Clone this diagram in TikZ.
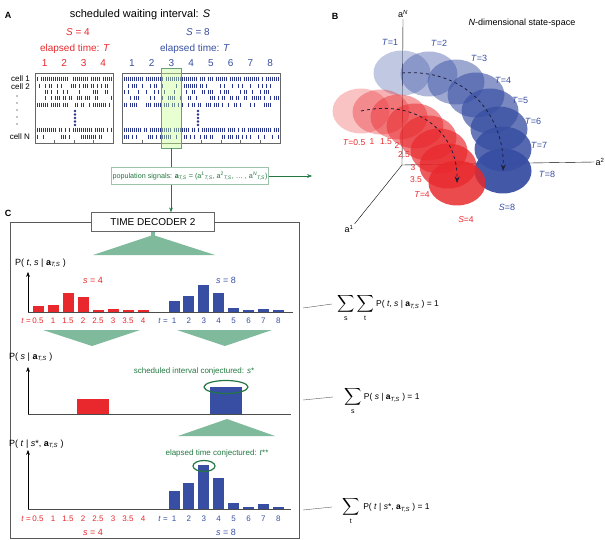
\documentclass[tikz,border=0pt]{standalone}
\usepackage{amsmath}
\usepackage{fontspec}
\setmainfont{Liberation Sans}
\usepackage{tikz}
\usetikzlibrary{shapes.geometric, arrows.meta, positioning, calc}
\definecolor{rojo}{RGB}{232,40,44}
\definecolor{azul}{RGB}{55,78,162}
\definecolor{marino}{RGB}{40,52,138}
\definecolor{verde}{RGB}{35,120,65}
\definecolor{verdeclaro}{RGB}{128,186,156}
\definecolor{oscuro}{RGB}{30,32,60}
\tikzstyle{arrow} = [thick, ->, >=Stealth]
\tikzstyle{spike} = [marino, line width=0.9pt]
\newcommand{\aTS}{\textbf{a}\textsubscript{\textit{T,S}}}
\newcommand{\sub}{\textsubscript{\textit{T,S}}}
\newcommand{\bigsum}[1]{{\fontsize{13}{15}\selectfont$\displaystyle\sum_{\mbox{\fontsize{7}{8}\selectfont #1}}$}}

\begin{document}
\begin{tikzpicture}[x=1pt, y=-1pt,
		every node/.style={font=\fontsize{8}{10}\selectfont, inner sep=1pt},
		big/.style={font=\fontsize{11}{13}\selectfont},
		mid/.style={font=\fontsize{10}{12}\selectfont},
		lbl/.style={font=\fontsize{9}{11}\selectfont},
		lblb/.style={font=\fontsize{8.5}{10}\selectfont},
		small/.style={font=\fontsize{8}{10}\selectfont},
		panel/.style={font=\bfseries\fontsize{9}{11}\selectfont},
		box/.style={draw=gray!80!black, fill=white, minimum width=123pt, minimum height=19pt, font=\fontsize{10}{12}\selectfont},
		popbox/.style={draw=verde!45, fill=white, text=verde, minimum width=154pt, minimum height=17pt, font=\fontsize{7.2}{9}\selectfont},
		tri/.style={fill=verdeclaro, draw=none},
		conj/.style={draw=verde, line width=1.2pt},
		blob/.style={ellipse, inner sep=0, minimum width=57pt, minimum height=45pt},
		sumeq/.style={anchor=west, font=\fontsize{8.5}{10}\selectfont}
		]
		\useasboundingbox (0,0) rectangle (605,540);
		
		% Panel A
		\node[panel] (A) at (8,15) {A};
		\node[big] (title) at (140,15) {scheduled waiting interval: \textit{S}};
		\node[mid, rojo] (S4) at (78,32) {\textit{S} = 4};
		\node[mid, azul] (S8) at (198,32) {\textit{S} = 8};
		\node[mid, rojo] (T4) at (75,49) {elapsed time: \textit{T}};
		\node[mid, azul] (T8) at (195,49) {elapsed time: \textit{T}};
		\foreach \i in {1,...,4}
		\node[mid, rojo] (n\i) at ({44.75+19.5*(\i-1)},63) {\i};
		\foreach \i in {1,...,8}
		\node[mid, azul] (m\i) at ({131.9+19.75*(\i-1)},63) {\i};
		
		\draw[gray!80!black] (35,73) rectangle (113,143);
		\draw[gray!80!black] (122,73) rectangle (280,143);
		\foreach \x in {54.5,74,93.5} \draw[gray!80!black] (\x,143) -- ++(0,-2.5);
		\foreach \x in {141.75,161.5,...,262} \draw[gray!80!black] (\x,143) -- ++(0,-2.5);
		
		% spikes
		\pgfmathsetseed{11}
		\foreach \y/\d in {79/0.8, 86/0.45, 92/0.3, 98/0.5, 105/0.55, 130/0.8, 137/0.45}{
			\foreach \x in {37,39,...,111}{
				\pgfmathsetmacro\r{rnd}
				\ifdim\r pt<\d pt\relax \draw[spike] (\x,\y-2.4) -- (\x,\y+2.4);\fi
			}
			\foreach \x in {124,126,...,278}{
				\pgfmathsetmacro\r{rnd}
				\ifdim\r pt<\d pt\relax \draw[spike] (\x,\y-2.4) -- (\x,\y+2.4);\fi
			}
		}
		\foreach \y in {111,114.5,...,125} {
			\fill[marino] (75,\y) circle (1.4);
			\fill[marino] (198,\y) circle (1.4);
		}
		\node[small, anchor=east] (c1) at (31,79) {cell 1};
		\node[small, anchor=east] (c2) at (31,87) {cell 2};
		\node[small, anchor=east] (cN) at (31,137) {cell N};
		\foreach \y in {96,103,...,125} \fill (17,\y) circle (0.6);
		
		\node[draw=verde!70, fill=green!50!yellow!45, fill opacity=0.4, draw opacity=1, minimum width=20pt, minimum height=80pt, inner sep=0] (win) at (171,108) {};
		\node[popbox] (pop) at (190,176) {population signals: \aTS\ = (a\textsuperscript{1}\sub, a\textsuperscript{2}\sub, … , a\textsuperscript{\textit{N}}\sub)};
		\coordinate (toB) at (312,176);
		\draw[verde] (win.south) -- (win.south |- pop.north);
		\draw[verde, ->, >=Stealth] (pop.east) -- (toB);
		
		% Panel C
		\node[panel] (C) at (8,213) {C};
		\draw[gray!70!black] (10,222) rectangle (299,538);
		\node[box] (dec) at (153,222) {TIME DECODER 2};
		\draw[verde, ->, >=Stealth] (win.south |- pop.south) -- (win.south |- dec.north);
		
		\fill[tri] (153,235) -- (215,255) -- (93,255) -- cycle;
		\fill[tri] (151,232) rectangle (155,236);
		
		% P(t,s|a)
		\node[lbl, anchor=west] (P1) at (14,263) {P( \textit{t}, \textit{s} | \aTS\ )};
		\draw[->, >=Stealth] (28,312) -- (28,272);
		\foreach \h [count=\i] in {6,7,19,15,2,3,2,2}
		\fill[rojo] ({38+15*(\i-1)-5.5},312) rectangle ++(11,-\h);
		\foreach \h [count=\i] in {11,16,27,19,4,2,3,2}
		\fill[azul] ({174+14.9*(\i-1)-5.5},312) rectangle ++(11,-\h);
		\draw[gray!60!black, line width=0.8pt] (28,312) -- (293,312);
		\node[lbl, rojo] (s4a) at (93,280) {\textit{s} = 4};
		\node[lbl, azul] (s8a) at (226,280) {\textit{s} = 8};
		\node[small, rojo, anchor=east] at (32,321) {\textit{t} =};
		\node[small, azul, anchor=east] at (169,321) {\textit{t} =};
		\foreach \v [count=\i] in {0.5,1,1.5,2,2.5,3,3.5,4}
		\node[small, rojo] at ({38+15*(\i-1)},321) {\v};
		\foreach \v [count=\i] in {1,...,8}
		\node[small, azul] at ({174+14.9*(\i-1)},321) {\v};
		
		\fill[tri] (43,330) -- (140,330) -- (92,346) -- cycle;
		\fill[tri] (177,330) -- (272,330) -- (225,346) -- cycle;
		
		% P(s|a)
		\node[lbl, anchor=west] (P2) at (8,357) {P( \textit{s} | \aTS\ )};
		\draw[->, >=Stealth] (28,414) -- (28,367);
		\fill[rojo] (77,399) rectangle (109,414);
		\fill[azul] (210,387) rectangle (242,414);
		\draw[gray!60!black, line width=0.8pt] (28,414) -- (291,414);
		\draw[conj] (226,387) ellipse (22 and 6.5);
		\node[small, verde] (sstar) at (194,371) {scheduled interval conjectured: \textit{s}*};
		
		\fill[tri] (227,419) -- (275,436) -- (178,436) -- cycle;
		
		% P(t|s*,a)
		\node[lbl, anchor=west] (P3) at (8,444) {P( \textit{t} | \textit{s}*, \aTS\ )};
		\draw[->, >=Stealth] (28,509) -- (28,450);
		\foreach \h [count=\i] in {18,26,44,31,6,2,5,2}
		\fill[azul] ({174+14.9*(\i-1)-5.5},509) rectangle ++(11,-\h);
		\draw[gray!60!black, line width=0.8pt] (28,509) -- (291,509);
		\draw[conj] (204,466) ellipse (11 and 5.5);
		\node[small, verde] (tstar) at (217,453) {elapsed time conjectured: \textit{t}**};
		\node[small, rojo, anchor=east] at (32,519) {\textit{t} =};
		\node[small, azul, anchor=east] at (169,519) {\textit{t} =};
		\foreach \v [count=\i] in {0.5,1,1.5,2,2.5,3,3.5,4}
		\node[small, rojo] at ({38+15*(\i-1)},519) {\v};
		\foreach \v [count=\i] in {1,...,8}
		\node[small, azul] at ({174+14.9*(\i-1)},519) {\v};
		\node[lbl, rojo] (s4b) at (93,532) {\textit{s} = 4};
		\node[lbl, azul] (s8b) at (226,532) {\textit{s} = 8};
		
		% sums
		\node[sumeq] (eq1) at (336,308) {\bigsum{s}\kern2pt\bigsum{t} P( \textit{t}, \textit{s} | \aTS\ ) = 1};
		\node[sumeq] (eq2) at (343,401) {\bigsum{s} P( \textit{s} | \aTS\ ) = 1};
		\node[sumeq] (eq3) at (341,511) {\bigsum{t}\, P( \textit{t} | \textit{s}*, \aTS\ ) = 1};
		\coordinate (k1) at (303,308);
		\coordinate (k2) at (303,400);
		\coordinate (k3) at (303,510);
		\draw[gray!70!black] (k1) -- ([xshift=-4pt, yshift=4pt]eq1.west);
		\draw[gray!70!black] (k2) -- ([xshift=-10pt, yshift=4pt]eq2.west);
		\draw[gray!70!black] (k3) -- ([xshift=-9pt, yshift=4pt]eq3.west);
		
		% Panel B
		\node[panel] (B) at (335,16) {B};
		\node[lbl] (sp) at (522,23) {\textit{N}-dimensional state-space};
		\coordinate (o) at (402,165);
		\node[lbl] (aN) at (403,14) {a\textsuperscript{\textit{N}}};
		\node[lbl] (a2) at (600,162) {a\textsuperscript{2}};
		\node[lbl] (a1) at (349,229) {a\textsuperscript{1}};
		\draw (o) -- (aN.south);
		\draw (o) -- (a2.west);
		\draw (o) -- (a1.north east);
		
		\foreach \x/\y [count=\i, evaluate=\i as \op using 0.22+0.09*\i] in {402/73, 429/74, 456/82, 476/95, 490/111, 499/129, 503/149, 503/171}
		\node[blob, fill=azul, fill opacity=\op] (b\i) at (\x,\y) {};
		\foreach \x/\y [count=\i, evaluate=\i as \op using 0.2+0.08*\i] in {361/111, 381/112, 399/117, 415/126, 428/138, 439/151, 448/166, 457/183}
		\node[blob, fill=rojo, fill opacity=\op] (r\i) at (\x,\y) {};
		\draw[oscuro, dashed, thick, ->, >=Stealth] (b1.center) .. controls (470,68) and (505,120) .. (b8.center);
		\draw[oscuro, dashed, thick, ->, >=Stealth] (r1.center) .. controls (420,98) and (458,135) .. (r8.center);
		
		\foreach \t/\x/\y in {1/390/42, 2/439/43, 3/479/58, 4/503/80, 5/520/100, 6/533/121, 7/539/145, 8/547/174}
		\node[lbl, azul] at (\x,\y) {\textit{T}=\t};
		\node[lbl, azul] at (507,207) {\textit{S}=8};
		\node[lblb, rojo] at (354,143) {\textit{T}=0.5};
		\foreach \t/\x/\y in {1/372/142, 1.5/386/142, 2/397/146, 2.5/404/155, 3/413/168, 3.5/416/180}
		\node[lblb, rojo] at (\x,\y) {\t};
		\node[lblb, rojo] at (422,195) {\textit{T}=4};
		\node[lblb, rojo] at (466,220) {\textit{S}=4};
		
	\end{tikzpicture}
\end{document}
